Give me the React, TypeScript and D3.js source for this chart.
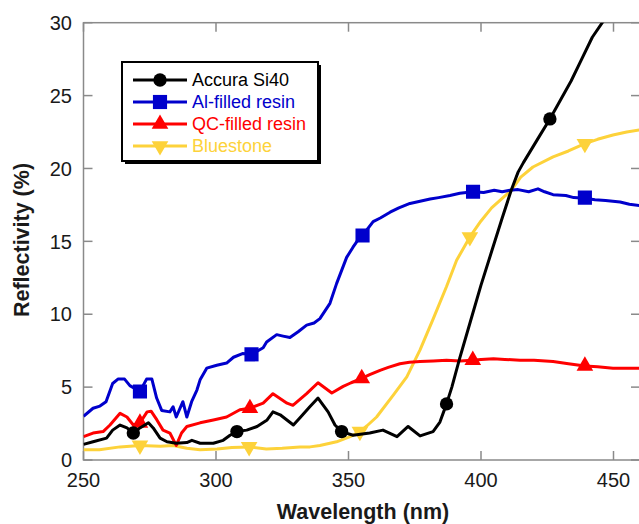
import React from 'react';
import * as d3 from 'd3';

// ---- Data ----
const accuraWl = [250, 253.6, 258.7, 261, 263.8, 266.4, 268.8, 271.3, 274.5, 276.3, 278.9, 281.5, 285, 289, 290.9, 294, 299, 302.7, 305.3, 307.9, 311.6, 315.5, 319.3, 321.5, 324.2, 329.2, 331.7, 335.4, 338.5, 342.3, 344.9, 347.4, 351.7, 358, 363, 368.3, 372.5, 377, 381.9, 384.5, 387, 389, 392, 396, 400, 404, 408, 411.4, 414, 416, 418, 422, 426, 430, 434, 438, 442, 446.5];
const accuraR = [1.07, 1.25, 1.5, 2.05, 2.4, 2.2, 1.85, 2.2, 2.55, 2.2, 1.5, 1.25, 1.15, 1.2, 1.35, 1.15, 1.15, 1.35, 1.7, 1.95, 2.05, 2.3, 2.75, 3.3, 3.1, 2.4, 2.9, 3.65, 4.25, 3.3, 2.4, 1.95, 1.7, 1.85, 2.05, 1.6, 2.3, 1.65, 1.95, 2.6, 3.85, 5.0, 7.0, 9.5, 12.0, 14.3, 16.6, 18.5, 19.75, 20.4, 21.0, 22.2, 23.4, 24.7, 26.0, 27.5, 29.0, 30.2];

const alWl = [250, 253.6, 256.2, 258.5, 261, 263, 265.5, 267.5, 271.3, 273.8, 275.8, 277.6, 279.5, 282.6, 283.8, 285, 287.5, 289, 290.8, 292.8, 294, 296.5, 300.3, 304, 306.6, 310, 313.4, 317.8, 319.1, 322.9, 325.3, 327.9, 331, 334.2, 337, 339.2, 343, 345.5, 349.3, 351.7, 353.6, 355.3, 359.3, 362, 365.7, 369, 373.2, 377, 380.8, 384, 388.3, 392, 397, 401, 405, 408, 410.9, 414, 418, 421.5, 424, 427.2, 432, 435, 439.2, 443, 447, 452.5, 456, 460];
const alR = [3.0, 3.55, 3.7, 4.0, 5.25, 5.55, 5.55, 5.1, 4.7, 5.55, 5.55, 4.25, 3.4, 3.3, 3.65, 2.95, 4.0, 2.95, 4.0, 4.8, 5.5, 6.3, 6.5, 6.65, 7.05, 7.3, 7.25, 7.7, 8.1, 8.6, 8.5, 8.4, 8.8, 9.25, 9.4, 9.7, 10.75, 12.1, 13.9, 14.6, 15.1, 15.4, 16.35, 16.6, 17.0, 17.3, 17.6, 17.75, 17.9, 18.0, 18.15, 18.3, 18.4, 18.35, 18.5, 18.4, 18.5, 18.55, 18.4, 18.6, 18.4, 18.2, 18.15, 18.0, 17.95, 17.85, 17.8, 17.7, 17.55, 17.45];

const qcWl = [250, 253.6, 257.4, 260, 263.8, 266.4, 268.8, 271.3, 274, 275.5, 277.7, 280, 282.6, 285, 287, 289, 294, 299, 304, 309, 312.8, 317.8, 321.5, 326.8, 329, 334.2, 338.5, 343.7, 348, 351, 355, 358, 361.9, 365, 369.4, 373, 377, 382, 387, 392, 396.9, 400, 404.7, 409, 414.7, 420, 427.2, 433, 439.2, 444, 449.8, 455, 460];
const qcR = [1.6, 1.85, 1.95, 2.4, 3.2, 2.95, 2.4, 2.55, 3.3, 3.35, 2.75, 2.05, 1.85, 1.0, 1.85, 2.3, 2.55, 2.75, 2.95, 3.45, 3.55, 3.9, 4.55, 3.9, 3.75, 4.55, 5.3, 4.6, 5.05, 5.3, 5.6, 5.85, 6.15, 6.35, 6.6, 6.7, 6.75, 6.8, 6.85, 6.8, 6.85, 6.9, 6.95, 6.9, 6.85, 6.85, 6.75, 6.6, 6.45, 6.4, 6.3, 6.3, 6.3];

const blueWl = [250, 256, 263.8, 271.3, 279, 283.8, 289, 294, 300.4, 306, 312.5, 319, 325, 331.7, 335.5, 339.2, 345.5, 350.6, 354.3, 357, 360.6, 366.9, 372, 377, 382, 387, 390.8, 395.8, 400, 404, 408, 411.4, 415, 419.6, 427.2, 433, 439.2, 444, 449.8, 455, 460];
const blueR = [0.7, 0.7, 0.9, 1.0, 0.95, 1.0, 0.8, 0.7, 0.75, 0.85, 0.9, 0.75, 0.8, 0.9, 0.9, 1.0, 1.25, 1.6, 1.95, 2.35, 2.95, 4.45, 5.7, 7.55, 9.7, 11.9, 13.7, 15.3, 16.4, 17.3, 17.95, 18.5, 19.4, 20.1, 20.8, 21.2, 21.7, 22.0, 22.3, 22.5, 22.65];

const accuraMkWl = [268.8, 307.9, 347.4, 387, 426];
const accuraMkR = [1.85, 1.95, 1.95, 3.85, 23.4];
const alMkWl = [271.3, 313.4, 355.3, 397, 439.2];
const alMkR = [4.7, 7.25, 15.4, 18.4, 18.0];
const qcMkWl = [271.3, 312.8, 355, 396.9, 439.2];
const qcMkR = [2.55, 3.55, 5.6, 6.85, 6.45];
const blueMkWl = [271.3, 312.5, 354.3, 395.8, 439.2];
const blueMkR = [1.0, 0.9, 1.95, 15.3, 21.7];

const seriesNames = ['Accura Si40', 'Al-filled resin', 'QC-filled resin', 'Bluestone'];
const xTicks = [250, 300, 350, 400, 450];
const yTicks = [0, 5, 10, 15, 20, 25, 30];

const COLORS = ['#000000', '#0000cc', '#ff0000', '#fdd23a'];
const SHAPES = ['circle', 'square', 'triUp', 'triDown'];

function markerPath(shape: string): { d: string; rot: number } {
  if (shape === 'circle') return { d: d3.symbol().type(d3.symbolCircle).size(140)() as string, rot: 0 };
  if (shape === 'square') return { d: d3.symbol().type(d3.symbolSquare).size(200)() as string, rot: 0 };
  if (shape === 'triUp') return { d: d3.symbol().type(d3.symbolTriangle).size(120)() as string, rot: 0 };
  return { d: d3.symbol().type(d3.symbolTriangle).size(120)() as string, rot: 180 };
}

export default function App() {
  const W = 639, H = 524;
  const L = 83.5, R = 640, T = 22.7, B = 460;
  const x = d3.scaleLinear().domain([250, 460]).range([L, R]);
  const y = d3.scaleLinear().domain([0, 30]).range([B, T]);
  const line = d3.line<[number, number]>().x(d => x(d[0])).y(d => y(d[1]));

  const series = [
    { wl: accuraWl, r: accuraR, mw: accuraMkWl, mr: accuraMkR },
    { wl: alWl, r: alR, mw: alMkWl, mr: alMkR },
    { wl: qcWl, r: qcR, mw: qcMkWl, mr: qcMkR },
    { wl: blueWl, r: blueR, mw: blueMkWl, mr: blueMkR },
  ];
  const drawOrder = [3, 2, 1, 0];
  const axisColor = '#8a8a8a';
  const tickLen = 9;
  const font = 'Arial, "Liberation Sans", Helvetica, sans-serif';

  const lgX = 122, lgY = 62, lgW = 196, lgH = 99;
  const rowY = [80, 102, 124, 146];

  return (
    <svg width={W} height={H} style={{ position: 'absolute', left: 0, top: 0, background: '#fff' }} fontFamily={font}>
      <defs>
        <clipPath id="plotClip">
          <rect x={L} y={T} width={R - L} height={B - T} />
        </clipPath>
      </defs>
      <rect x={0} y={0} width={W} height={H} fill="#fff" />
      {/* frame */}
      <rect x={L} y={T} width={R - L} height={B - T} fill="none" stroke={axisColor} strokeWidth={1.5} />
      {/* x ticks */}
      {xTicks.map(t => (
        <g key={'xt' + t}>
          <line x1={x(t)} x2={x(t)} y1={B} y2={B - tickLen} stroke={axisColor} strokeWidth={1.5} />
          <line x1={x(t)} x2={x(t)} y1={T} y2={T + tickLen} stroke={axisColor} strokeWidth={1.5} />
          <text x={x(t)} y={487} textAnchor="middle" fontSize={20} fill="#1a1a1a">{t}</text>
        </g>
      ))}
      {yTicks.map(t => (
        <g key={'yt' + t}>
          <line x1={L} x2={L + tickLen} y1={y(t)} y2={y(t)} stroke={axisColor} strokeWidth={1.5} />
          <line x1={R} x2={R - tickLen} y1={y(t)} y2={y(t)} stroke={axisColor} strokeWidth={1.5} />
          <text x={72} y={y(t)} dy="0.36em" textAnchor="end" fontSize={20} fill="#1a1a1a">{t}</text>
        </g>
      ))}
      {/* axis titles */}
      <text x={363} y={519} textAnchor="middle" fontSize={21.5} fontWeight="bold" fill="#1a1a1a">Wavelength (nm)</text>
      <text transform="translate(28.5,240) rotate(-90)" textAnchor="middle" fontSize={21.5} fontWeight="bold" fill="#1a1a1a">Reflectivity (%)</text>

      {/* series */}
      <g clipPath="url(#plotClip)">
        {drawOrder.map(i => {
          const s = series[i];
          const pts = s.wl.map((w, k) => [w, s.r[k]] as [number, number]);
          const mk = markerPath(SHAPES[i]);
          return (
            <g key={'s' + i}>
              <path d={line(pts) as string} fill="none" stroke={COLORS[i]} strokeWidth={3} strokeLinejoin="round" />
              {s.mw.map((w, k) => (
                <path key={k} d={mk.d} fill={COLORS[i]}
                  transform={`translate(${x(w)},${y(s.mr[k])}) rotate(${mk.rot})`} />
              ))}
            </g>
          );
        })}
      </g>

      {/* legend */}
      <rect x={lgX + 3} y={lgY + 3} width={lgW} height={lgH} fill="#000" />
      <rect x={lgX} y={lgY} width={lgW} height={lgH} fill="#fff" stroke="#000" strokeWidth={2} />
      {seriesNames.map((n, i) => {
        const mk = markerPath(SHAPES[i]);
        return (
          <g key={'lg' + i}>
            <line x1={133} x2={187} y1={rowY[i]} y2={rowY[i]} stroke={COLORS[i]} strokeWidth={3} />
            <path d={mk.d} fill={COLORS[i]} transform={`translate(160,${rowY[i]}) rotate(${mk.rot})`} />
            <text x={192} y={rowY[i]} dy="0.36em" fontSize={18} fill={COLORS[i]}>{n}</text>
          </g>
        );
      })}
    </svg>
  );
}
